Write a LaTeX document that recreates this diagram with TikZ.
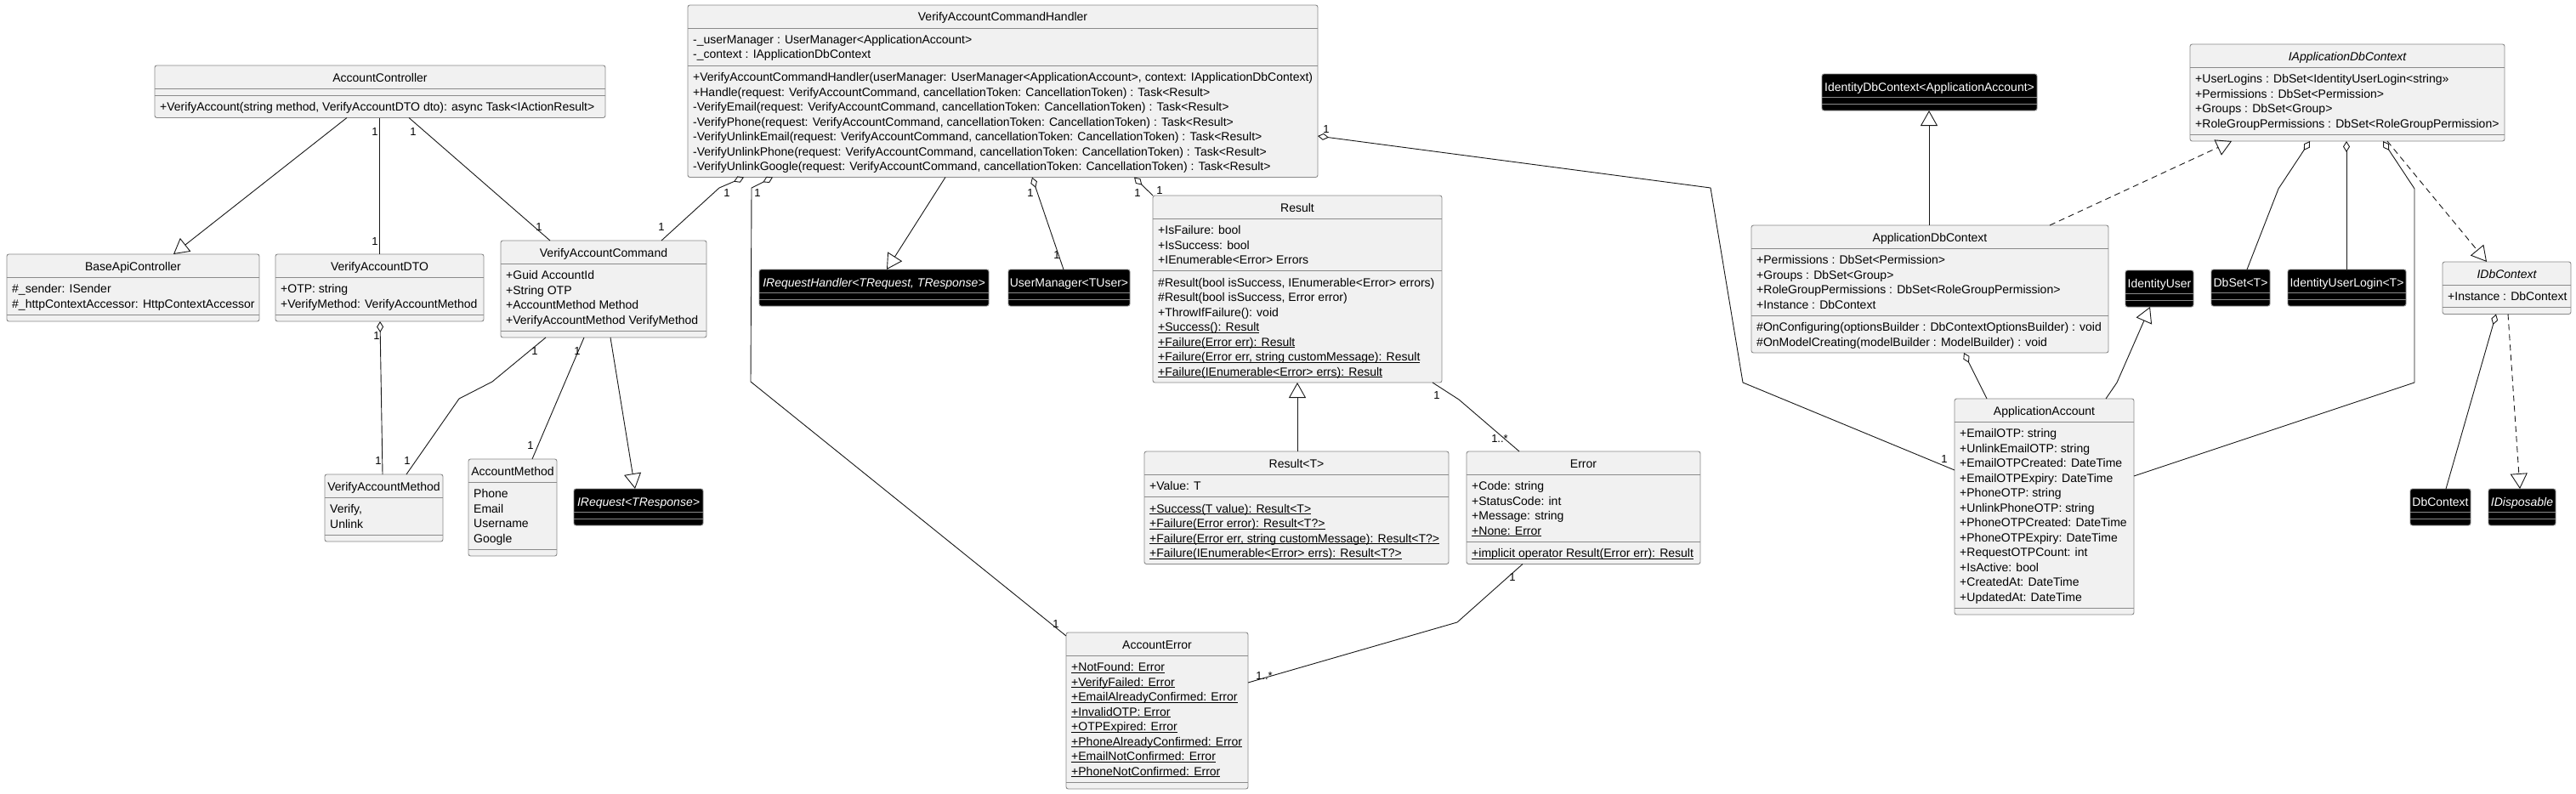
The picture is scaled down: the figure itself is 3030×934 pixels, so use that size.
\documentclass[tikz,border=0pt]{standalone}
\usepackage{fontspec}
\setmainfont{Liberation Sans}
\usetikzlibrary{arrows.meta}
\definecolor{boxfill}{HTML}{F1F1F1}
\definecolor{boxline}{HTML}{8A8A8A}
\definecolor{conn}{HTML}{181818}
\newcommand\umlf{\fontsize{14}{17}\selectfont}
\newcommand\multf{\fontsize{13}{13}\selectfont}
\newcounter{multc}
\newsavebox\ulbox
\newcommand\uln[1]{\sbox\ulbox{#1}\rlap{\rule[-2.3pt]{\wd\ulbox}{0.9pt}}\usebox\ulbox}
\tikzset{
  classbox/.style={draw=boxline, fill=boxfill, line width=0.9pt, rounded corners=2.5pt, anchor=north west, inner sep=0pt, outer sep=0pt},
  extbox/.style={draw=boxline, fill=black, line width=0.9pt, rounded corners=2.5pt, anchor=north west, inner sep=0pt, outer sep=0pt},
  sepline/.style={draw=boxline, line width=0.9pt},
  extsep/.style={draw=boxline, line width=0.9pt},
  titletext/.style={anchor=base, inner sep=0pt, font=\umlf, text=black},
  exttitle/.style={anchor=base, inner sep=0pt, font=\umlf, text=white},
  member/.style={anchor=base west, inner sep=0pt, font=\umlf, text=black},
  mult/.style={inner sep=0pt, font=\multf, text=black},
  assoc/.style={draw=conn, line width=0.9pt},
  gen/.style={assoc, -{Triangle[open, length=18pt, width=20pt]}},
  real/.style={gen, dash pattern=on 7pt off 5pt},
  agg/.style={assoc, {Diamond[open, length=13pt, width=8pt]}-},
}
% name, x1, y1, x2, title, nattr, attrs, nmeth, meths
\newcommand\umlclass[9]{%
  \pgfmathsetmacro\uya{#3+27}%
  \pgfmathsetmacro\uyb{\uya+ifthenelse(#6==0,8,9+17.5*#6)}%
  \pgfmathsetmacro\uyc{\uyb+ifthenelse(#8==0,8,9+17.5*#8)}%
  \pgfmathsetmacro\ubw{#4-#2}%
  \pgfmathsetmacro\ubh{\uyc-#3}%
  \node[classbox, minimum width={\ubw pt}, minimum height={\ubh pt}] (#1) at (#2,#3) {};
  \node[titletext] (#1-title) at ({(#2+#4)/2},{#3+19}) {#5};
  \draw[sepline] (#2,\uya) -- (#4,\uya);
  \draw[sepline] (#2,\uyb) -- (#4,\uyb);
  \ifnum#6>0
    \foreach \mtext [count=\i from 0] in {#7} {\node[member] (#1-a\i) at ({#2+6},{\uya+18.5+17.5*\i}) {\mtext};}
  \fi
  \ifnum#8>0
    \foreach \mtext [count=\i from 0] in {#9} {\node[member] (#1-m\i) at ({#2+6},{\uyb+18.5+17.5*\i}) {\mtext};}
  \fi
}
% name, x1, y1, x2, title
\newcommand\umlext[5]{%
  \pgfmathsetmacro\ubw{#4-#2}%
  \node[extbox, minimum width={\ubw pt}, minimum height=43pt] (#1) at (#2,#3) {};
  \node[exttitle] (#1-title) at ({(#2+#4)/2},{#3+20}) {#5};
  \draw[extsep] (#2,{#3+27}) -- (#4,{#3+27});
  \draw[extsep] (#2,{#3+35}) -- (#4,{#3+35});
}
\newcommand\mlabel[3]{\stepcounter{multc}\node[mult] (ml\arabic{multc}) at (#1,#2) {#3};}

\begin{document}
\begin{tikzpicture}[x=1pt, y=-1pt]
\fill[white] (0,0) rectangle (3030,934);
\useasboundingbox (0,0) rectangle (3030,934);

% ---------- classes ----------
\umlclass{ac}{182}{77}{712}{AccountController}{0}{}{1}{{+VerifyAccount(string method, VerifyAccountDTO dto): async Task<IActionResult>}}
\umlclass{bac}{8}{299}{305}{BaseApiController}{2}{{\#\_sender: ISender},{\#\_httpContextAccessor: HttpContextAccessor}}{0}{}
\umlclass{dto}{324}{299}{569}{VerifyAccountDTO}{2}{{+OTP: string},{+VerifyMethod: VerifyAccountMethod}}{0}{}
\umlclass{vac}{589}{283}{831}{VerifyAccountCommand}{4}{{+Guid AccountId},{+String OTP},{+AccountMethod Method},{+VerifyAccountMethod VerifyMethod}}{0}{}
\umlclass{vam}{382}{558}{521}{VerifyAccountMethod}{2}{{Verify,},{Unlink}}{0}{}
\umlclass{am}{551}{540}{655}{AccountMethod}{4}{{Phone},{Email},{Username},{Google}}{0}{}
\umlext{ireq}{675}{575}{827}{\itshape IRequest<TResponse>}

\umlclass{h}{809}{6}{1550}{VerifyAccountCommandHandler}{2}{{-\_userManager : UserManager<ApplicationAccount>},{-\_context : IApplicationDbContext}}{7}{{+VerifyAccountCommandHandler(userManager: UserManager<ApplicationAccount>, context: IApplicationDbContext)},{+Handle(request: VerifyAccountCommand, cancellationToken: CancellationToken) : Task<Result>},{-VerifyEmail(request: VerifyAccountCommand, cancellationToken: CancellationToken) : Task<Result>},{-VerifyPhone(request: VerifyAccountCommand, cancellationToken: CancellationToken) : Task<Result>},{-VerifyUnlinkEmail(request: VerifyAccountCommand, cancellationToken: CancellationToken) : Task<Result>},{-VerifyUnlinkPhone(request: VerifyAccountCommand, cancellationToken: CancellationToken) : Task<Result>},{-VerifyUnlinkGoogle(request: VerifyAccountCommand, cancellationToken: CancellationToken) : Task<Result>}}
\umlext{irh}{893}{317}{1163}{\itshape IRequestHandler<TRequest, TResponse>}
\umlext{um}{1186}{317}{1329}{UserManager<TUser>}

\umlclass{res}{1356}{230}{1696}{Result}{3}{{+IsFailure: bool},{+IsSuccess: bool},{+IEnumerable<Error> Errors}}{7}{{\#Result(bool isSuccess, IEnumerable<Error> errors)},{\#Result(bool isSuccess, Error error)},{+ThrowIfFailure(): void},{\uln{+Success(): Result}},{\uln{+Failure(Error err): Result}},{\uln{+Failure(Error err, string customMessage): Result}},{\uln{+Failure(IEnumerable<Error> errs): Result}}}
\umlclass{rest}{1346}{531}{1704}{Result<T>}{1}{{+Value: T}}{4}{{\uln{+Success(T value): Result<T>}},{\uln{+Failure(Error error): Result<T?>}},{\uln{+Failure(Error err, string customMessage): Result<T?>}},{\uln{+Failure(IEnumerable<Error> errs): Result<T?>}}}
\umlclass{err}{1725}{531}{2000}{Error}{4}{{+Code: string},{+StatusCode: int},{+Message: string},{\uln{+None: Error}}}{1}{{\uln{+implicit operator Result(Error err): Result}}}
\umlclass{ae}{1254}{744}{1468}{AccountError}{8}{{\uln{+NotFound: Error}},{\uln{+VerifyFailed: Error}},{\uln{+EmailAlreadyConfirmed: Error}},{\uln{+InvalidOTP: Error}},{\uln{+OTPExpired: Error}},{\uln{+PhoneAlreadyConfirmed: Error}},{\uln{+EmailNotConfirmed: Error}},{\uln{+PhoneNotConfirmed: Error}}}{0}{}

\umlext{idb}{2143}{87}{2396}{IdentityDbContext<ApplicationAccount>}
\umlclass{adb}{2060}{265}{2480}{ApplicationDbContext}{4}{{+Permissions : DbSet<Permission>},{+Groups : DbSet<Group>},{+RoleGroupPermissions : DbSet<RoleGroupPermission>},{+Instance : DbContext}}{2}{{\#OnConfiguring(optionsBuilder : DbContextOptionsBuilder) : void},{\#OnModelCreating(modelBuilder : ModelBuilder) : void}}
\umlext{iu}{2500}{318}{2580}{IdentityUser}
\umlclass{aa}{2299}{469}{2510}{ApplicationAccount}{12}{{+EmailOTP: string},{+UnlinkEmailOTP: string},{+EmailOTPCreated: DateTime},{+EmailOTPExpiry: DateTime},{+PhoneOTP: string},{+UnlinkPhoneOTP: string},{+PhoneOTPCreated: DateTime},{+PhoneOTPExpiry: DateTime},{+RequestOTPCount: int},{+IsActive: bool},{+CreatedAt: DateTime},{+UpdatedAt: DateTime}}{0}{}
\umlclass{iadb}{2576}{52}{2946}{\itshape IApplicationDbContext}{4}{{+UserLogins : DbSet<IdentityUserLogin<string>>},{+Permissions : DbSet<Permission>},{+Groups : DbSet<Group>},{+RoleGroupPermissions : DbSet<RoleGroupPermission>}}{0}{}
\umlext{dbs}{2601}{317}{2670}{DbSet<T>}
\umlext{iul}{2691}{317}{2830}{IdentityUserLogin<T>}
\umlclass{idc}{2873}{308}{3024}{\itshape IDbContext}{1}{{+Instance : DbContext}}{0}{}
\umlext{dbc}{2835}{575}{2906}{DbContext}
\umlext{idisp}{2927}{575}{3006}{\itshape IDisposable}

% ---------- connectors ----------
\draw[gen] (ac.south -| 408,0) -- (bac.north -| 204,0);
\draw[assoc] (ac.south -| 446,0) -- (dto.north -| 446,0);
\draw[assoc] (ac.south -| 481,0) -- (vac.north -| 647,0);
\draw[agg] (h.south -| 875,0) -- (846,221) -- (vac.north -| 778,0);
\draw[agg] (h.south -| 909,0) -- (884,221) -- (883,449) -- (ae.west |- 0,748);
\draw[gen] (h.south -| 1112,0) -- (irh.north -| 1043,0);
\draw[agg] (h.south -| 1214,0) -- (um.north -| 1251,0);
\draw[agg] (h.south -| 1334,0) -- (res.north west);
\draw[agg] (h.east |- 0,160) -- (2012,221) -- (2050,450) -- (aa.west |- 0,553);
\draw[agg] (dto.south -| 447,0) -- (vam.north -| 450,0);
\draw[assoc] (vac.south -| 642,0) -- (579,449) -- (540,469) -- (vam.north -| 478,0);
\draw[assoc] (vac.south -| 687,0) -- (am.north -| 626,0);
\draw[gen] (vac.south -| 718,0) -- (ireq.north -| 747,0);
\draw[gen] (rest.north -| 1526,0) -- (res.south -| 1526,0);
\draw[assoc] (res.south -| 1685,0) -- (1716,470) -- (err.north -| 1787,0);
\draw[assoc] (err.south -| 1791,0) -- (1714,732) -- (ae.east |- 0,803);
\draw[gen] (adb.north -| 2269,0) -- (idb.south -| 2269,0);
\draw[real] (adb.north -| 2411,0) -- (iadb.south -| 2625,0);
\draw[agg] (adb.south -| 2310,0) -- (aa.north -| 2337,0);
\draw[gen] (aa.north -| 2477,0) -- (2490,450) -- (iu.south -| 2529,0);
\draw[agg] (iadb.south -| 2717,0) -- (2680,222) -- (dbs.north -| 2643,0);
\draw[agg] (iadb.south -| 2760,0) -- (iul.north -| 2760,0);
\draw[agg] (iadb.south -| 2803,0) -- (2840,222) -- (2840,450) -- (aa.east |- 0,560);
\draw[real] (iadb.south -| 2808,0) -- (idc.north -| 2925,0);
\draw[agg] (idc.south -| 2936,0) -- (dbc.north -| 2877,0);
\draw[real] (idc.south -| 2950,0) -- (idisp.north -| 2964,0);

% ---------- multiplicities ----------
\mlabel{441}{155}{1}\mlabel{441}{284}{1}
\mlabel{486}{155}{1}\mlabel{634}{267}{1}
\mlabel{855}{227}{1}\mlabel{778}{267}{1}
\mlabel{891}{227}{1}\mlabel{1242}{734}{1}
\mlabel{1212}{227}{1}\mlabel{1243}{300}{1}
\mlabel{1338}{227}{1}\mlabel{1364}{224}{1}
\mlabel{1560}{152}{1}\mlabel{2287}{540}{1}
\mlabel{1690}{465}{1}\mlabel{1764}{516}{1..*}
\mlabel{1779}{679}{1}\mlabel{1487}{795}{1..*}
\mlabel{443}{395}{1}\mlabel{445}{542}{1}
\mlabel{629}{413}{1}\mlabel{479}{542}{1}
\mlabel{679}{413}{1}\mlabel{624}{524}{1}
\end{tikzpicture}
\end{document}
